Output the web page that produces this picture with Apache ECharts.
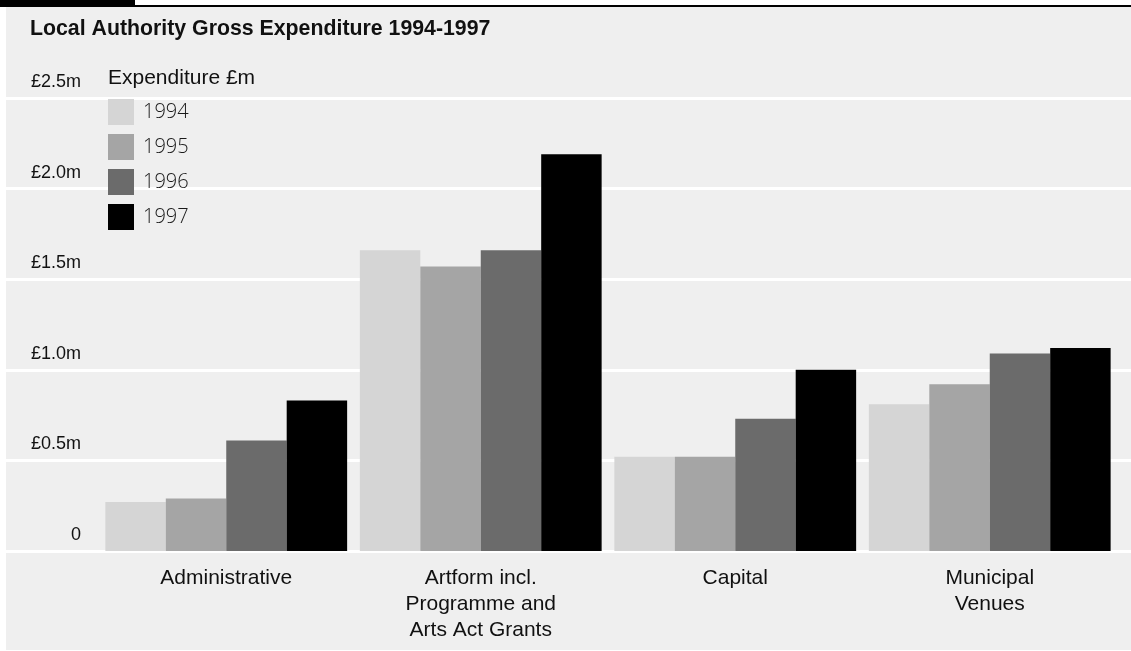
<!DOCTYPE html>
<html>
<head>
<meta charset="utf-8">
<script src="https://cdn.jsdelivr.net/npm/echarts@6/dist/echarts.min.js"></script>
<style>
html,body{margin:0;padding:0;background:#fff;}
#c{width:1131px;height:651px;}
</style>
</head>
<body>
<div id="c"></div>
<script>
const categories = ['Administrative', 'Artform incl.\nProgramme and\nArts Act Grants', 'Capital', 'Municipal\nVenues'];
const years = ['1994', '1995', '1996', '1997'];
const s1994 = [0.27, 1.66, 0.52, 0.81];
const s1995 = [0.29, 1.57, 0.52, 0.92];
const s1996 = [0.61, 1.66, 0.73, 1.09];
const s1997 = [0.83, 2.19, 1.00, 1.12];
const yTicks = ['0', '£0.5m', '£1.0m', '£1.5m', '£2.0m', '£2.5m'];
const titleText = 'Local Authority Gross Expenditure 1994-1997';
const unitText = 'Expenditure £m';

const colors = ['#d5d5d5', '#a5a5a5', '#6b6b6b', '#000000'];
const seriesData = [s1994, s1995, s1996, s1997];

const chart = echarts.init(document.getElementById('c'), null, {renderer: 'canvas'});
const FONT = '"Liberation Sans", Arial, Helvetica, sans-serif';

chart.setOption({
  backgroundColor: '#ffffff',
  animation: false,
  textStyle: {fontFamily: FONT},
  title: {
    text: titleText,
    left: 25, top: 14,
    textStyle: {fontFamily: FONT, fontSize: 21.3, fontWeight: 'bold', color: '#111'}
  },
  graphic: [
    {type: 'rect', z: -100, shape: {x: 6, y: 7, width: 1125, height: 643}, style: {fill: '#efefef'}, silent: true},
    {type: 'rect', z: -90, shape: {x: 0, y: 0, width: 135, height: 6}, style: {fill: '#000'}, silent: true},
    {type: 'rect', z: -90, shape: {x: 0, y: 5, width: 1131, height: 2}, style: {fill: '#000'}, silent: true},
    {type: 'text', left: 108, top: 68, style: {text: unitText, font: '21px ' + FONT, fill: '#111'}}
  ],
  legend: {
    data: years,
    orient: 'vertical',
    left: 108, top: 99,
    padding: 0,
    itemWidth: 26, itemHeight: 26, itemGap: 9,
    icon: 'rect',
    textStyle: {fontFamily: '"Open Sans", sans-serif', fontWeight: 300, fontSize: 20, color: '#1a1a1a', padding: [0, 0, 0, 4]}
  },
  grid: [
    {left: 99, right: 14, top: 98, bottom: 100},
    {left: 6, right: 0, top: 98, bottom: 100}
  ],
  xAxis: [
    {
      type: 'category', gridIndex: 0, data: categories,
      axisLine: {show: false}, axisTick: {show: false},
      axisLabel: {fontFamily: FONT, fontSize: 21, color: '#111', lineHeight: 26, margin: 14}
    },
    {type: 'value', gridIndex: 1, min: 0, max: 1, show: false}
  ],
  yAxis: [
    {
      type: 'value', gridIndex: 0, min: 0, max: 2.5, interval: 0.5,
      axisLine: {show: false}, axisTick: {show: false}, splitLine: {show: false},
      axisLabel: {
        fontFamily: FONT, fontSize: 18, color: '#111', margin: 18, align: 'right',
        verticalAlign: 'bottom', padding: [0, 0, 7, 0],
        formatter: function (v) { return yTicks[Math.round(v / 0.5)]; }
      }
    },
    {
      type: 'value', gridIndex: 1, min: 0, max: 2.5, interval: 0.5,
      axisLine: {show: false}, axisTick: {show: false}, axisLabel: {show: false},
      splitLine: {show: true, lineStyle: {color: '#ffffff', width: 3}}
    }
  ],
  series: years.map(function (y, i) {
    return {
      name: y, type: 'bar', xAxisIndex: 0, yAxisIndex: 0,
      data: seriesData[i],
      barGap: '0%', barCategoryGap: '5%',
      itemStyle: {color: colors[i]},
      z: 5
    };
  })
});
</script>
</body>
</html>
